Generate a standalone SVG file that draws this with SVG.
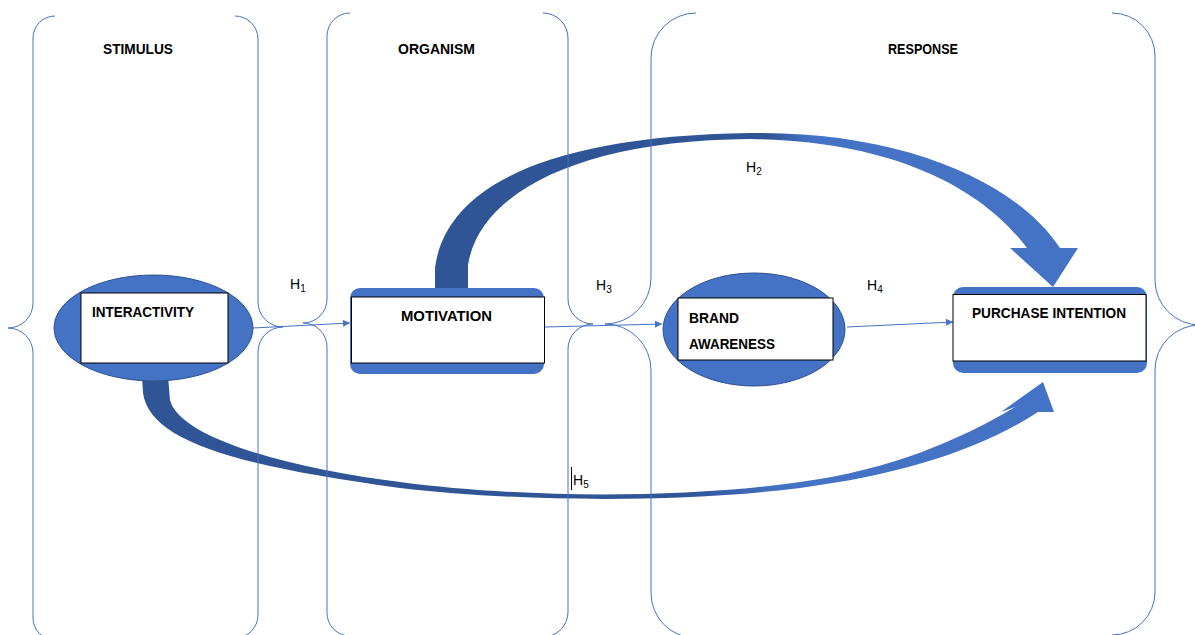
<svg xmlns="http://www.w3.org/2000/svg" width="1195" height="635" viewBox="0 0 1195 635">
  <style>
    .brace { fill: none; stroke: #4472C4; stroke-width: 1; }
    .lbl { font-family: "Liberation Sans", Arial, sans-serif; font-weight: bold; font-size: 15px; fill: #000; }
    .hyp { font-family: "Liberation Sans", Arial, sans-serif; font-size: 14px; fill: #000; }
    .sub { font-size: 10px; }
    .blue { fill: #4472C4; }
    .ell { fill: #4472C4; stroke: #2F528F; stroke-width: 1; }
    .box { fill: #fff; stroke: #000; stroke-width: 1; }
    .thin { fill: none; stroke: #4472C4; stroke-width: 1; marker-end: url(#tri); }
  </style>
  <defs>
    <marker id="tri" viewBox="0 0 10 10" refX="10" refY="5" markerWidth="8" markerHeight="7" markerUnits="userSpaceOnUse" orient="auto">
      <path d="M0,0 L10,5 L0,10 Z" fill="#4472C4"/>
    </marker>
    <linearGradient id="gH2" gradientUnits="userSpaceOnUse" x1="435" y1="0" x2="1078" y2="0">
      <stop offset="0" stop-color="#2F5597"/>
      <stop offset="0.52" stop-color="#2F5597"/>
      <stop offset="0.58" stop-color="#4472C4"/>
      <stop offset="1" stop-color="#4472C4"/>
    </linearGradient>
    <linearGradient id="gH5" gradientUnits="userSpaceOnUse" x1="142" y1="0" x2="1054" y2="0">
      <stop offset="0" stop-color="#2F5597"/>
      <stop offset="0.6" stop-color="#2F5597"/>
      <stop offset="0.7" stop-color="#4472C4"/>
      <stop offset="1" stop-color="#4472C4"/>
    </linearGradient>
  </defs>

  <rect width="1195" height="635" fill="#fff"/>

  <g id="connectors">
    <path id="H2-arrow" fill="url(#gH2)" d="M435,290 L435,268 C445,190 540,136 750,133 C900,131 1015,180 1060,248 L1078,248 L1053,287 L1010,248 L1027,248 C985,192 900,141 750,139 C585,140 480,190 468,265 L468,290 Z"/>
    <path id="H5-arrow" fill="url(#gH5)" d="M142,376 L143,393 C150,440 230,465 400,488 C520,502 680,503 800,488 C900,475 980,450 1038,412 L1054,412 L1043,382 L1001,412 L1015,407 C960,440 890,470 800,482 C680,499 520,498 400,482 C300,470 180,440 170,400 L168,376 Z"/>
    <path id="H1-arrow" class="thin" d="M253,328 L350,323"/>
    <path id="H3-arrow" class="thin" d="M545,327 L662,324"/>
    <path id="H4-arrow" class="thin" d="M847,327 L953,322"/>
  </g>

  <g id="node-interactivity">
    <ellipse class="ell" cx="153.5" cy="328" rx="99.5" ry="53"/>
    <rect class="box" x="81" y="293" width="147" height="70"/>
    <text class="lbl" x="92" y="317" textLength="102" lengthAdjust="spacingAndGlyphs">INTERACTIVITY</text>
  </g>

  <g id="node-motivation">
    <rect class="blue" x="350" y="288" width="194" height="86" rx="10"/>
    <rect class="box" x="351.5" y="297" width="193" height="66"/>
    <text class="lbl" x="401" y="321" textLength="91" lengthAdjust="spacingAndGlyphs">MOTIVATION</text>
  </g>

  <g id="node-brand-awareness">
    <ellipse class="ell" cx="754" cy="329.5" rx="91" ry="56.5"/>
    <rect class="box" x="678" y="298" width="155" height="62"/>
    <text class="lbl" x="689" y="323" textLength="50" lengthAdjust="spacingAndGlyphs">BRAND</text>
    <text class="lbl" x="689" y="349" textLength="86" lengthAdjust="spacingAndGlyphs">AWARENESS</text>
  </g>

  <g id="node-purchase-intention">
    <rect class="blue" x="953" y="287" width="194" height="86" rx="10"/>
    <rect class="box" x="953" y="294.5" width="193" height="66.5"/>
    <text class="lbl" x="972" y="318" textLength="154" lengthAdjust="spacingAndGlyphs">PURCHASE INTENTION</text>
  </g>

  <g id="braces">
    <path class="brace" d="M55,16 A22,22 0 0 0 33,38 L33,303 A25,25 0 0 1 8,328 A25,25 0 0 1 33,353 L33,618 A22,22 0 0 0 55,640"/>
    <path class="brace" d="M235,16 A23,23 0 0 1 258,39 L258,302 A25,25 0 0 0 283,327 A25,25 0 0 0 258,352 L258,615 A23,23 0 0 1 235,638"/>
    <path class="brace" d="M350,13 A23,23 0 0 0 327,36 L327,299 A24,24 0 0 1 303,323 A24,24 0 0 1 327,347 L327,613 A23,23 0 0 0 350,636"/>
    <path class="brace" d="M543,13 A25,25 0 0 1 568,38 L568,299 A25,25 0 0 0 593,324 A25,25 0 0 0 568,349 L568,612 A25,25 0 0 1 543,637"/>
    <path class="brace" d="M696,13 A45,45 0 0 0 651,58 L651,278 A46,46 0 0 1 605,324 A46,46 0 0 1 651,370 L651,593 A45,45 0 0 0 696,638"/>
    <path class="brace" d="M1112,13 A43,43 0 0 1 1155,56 L1155,280 A45,45 0 0 0 1200,325 A45,45 0 0 0 1155,370 L1155,592 A43,43 0 0 1 1112,635"/>
  </g>

  <g id="headers">
    <text class="lbl" x="103" y="54" textLength="70" lengthAdjust="spacingAndGlyphs">STIMULUS</text>
    <text class="lbl" x="398" y="54" textLength="77" lengthAdjust="spacingAndGlyphs">ORGANISM</text>
    <text class="lbl" x="888" y="54" textLength="70" lengthAdjust="spacingAndGlyphs">RESPONSE</text>
  </g>

  <g id="hypotheses">
    <text class="hyp" x="290" y="289">H<tspan class="sub" dy="3">1</tspan></text>
    <text class="hyp" x="746" y="172">H<tspan class="sub" dy="3">2</tspan></text>
    <text class="hyp" x="596" y="290">H<tspan class="sub" dy="3">3</tspan></text>
    <text class="hyp" x="867" y="290">H<tspan class="sub" dy="3">4</tspan></text>
    <text class="hyp" x="573" y="485">H<tspan class="sub" dy="3">5</tspan></text>
    <line x1="571.5" y1="467" x2="571.5" y2="490" stroke="#000" stroke-width="1"/>
  </g>
</svg>
